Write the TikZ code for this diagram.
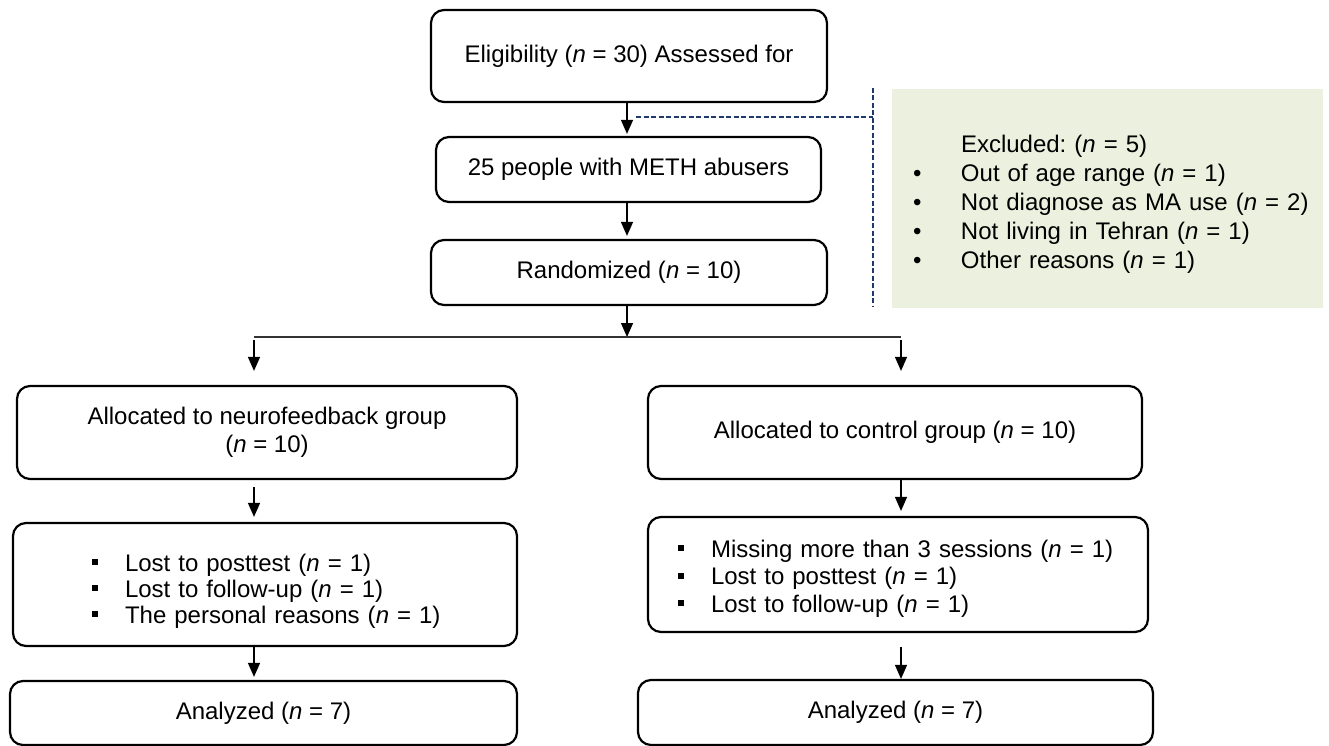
\documentclass[tikz,border=0pt]{standalone}
\usepackage{fontspec}
\setmainfont{Liberation Sans}
\usetikzlibrary{arrows.meta}
\definecolor{exclgreen}{RGB}{235,241,222}
\definecolor{dashblue}{RGB}{31,56,110}
\newcommand{\sqbul}{\makebox[33pt][l]{\rule[6pt]{6pt}{6pt}}}
\newcommand{\rdbul}{\makebox[48pt][l]{\textbullet}}
% one unbroken line of a list
\newcommand{\lline}[1]{\makebox[0pt][l]{#1}}
\frenchspacing
\begin{document}
\begin{tikzpicture}[x=1pt,y=-1pt,
  every node/.style={font=\fontsize{24pt}{27.6pt}\selectfont},
  box/.style={draw,line width=2.2pt,rounded corners=13pt,align=center},
  arr/.style={line width=1.4pt,-{Triangle[length=14pt,width=12pt]}},
  dashln/.style={dashblue,line width=1.5pt,dash pattern=on 5pt off 2.5pt}]
\useasboundingbox (0,0) rectangle (1329,746);
% enrolment
\node[box,minimum width=396pt,minimum height=92pt] (elig) at (629,56) {Eligibility (\textit{n} = 30) Assessed for};
\node[box,minimum width=385pt,minimum height=65pt] (meth) at (628.5,169.5) {25 people with METH abusers};
\node[box,minimum width=396pt,minimum height=65pt] (rand) at (629,272.5) {Randomized (\textit{n} = 10)};
% excluded
\node[fill=exclgreen,minimum width=431pt,minimum height=219pt,text width=389pt,align=left,
  font=\fontsize{24pt}{29pt}\selectfont] (excl) at (1107.5,198.5)
  {\lline{\rule{0pt}{28pt}\hspace*{48pt}Excluded: (\textit{n} = 5)}\\
   \lline{\rdbul Out of age range (\textit{n} = 1)}\\
   \lline{\rdbul Not diagnose as MA use (\textit{n} = 2)}\\
   \lline{\rdbul Not living in Tehran (\textit{n} = 1)}\\
   \lline{\rdbul Other reasons (\textit{n} = 1)}};
\coordinate (dashbeg) at (636,117);
\coordinate (dashtop) at (873,88);
\coordinate (dashbot) at (873,307);
\draw[dashln] (dashbeg) -- (dashbeg -| dashtop);
\draw[dashln] (dashtop) -- (dashbot);
% groups
\node[box,minimum width=500pt,minimum height=93pt] (alloc1) at (267,432.5) {Allocated to neurofeedback group\\(\textit{n} = 10)};
\node[box,minimum width=494pt,minimum height=93pt] (alloc2) at (895,432.5) {Allocated to control group (\textit{n} = 10)};
\node[box,minimum width=504pt,minimum height=123pt,text width=346pt,align=left,
  font=\fontsize{24pt}{26pt}\selectfont] (lost1) at (265,584.5)
  {\lline{\rule{0pt}{30pt}\sqbul Lost to posttest (\textit{n} = 1)}\\
   \lline{\sqbul Lost to follow-up (\textit{n} = 1)}\\
   \lline{\sqbul The personal reasons (\textit{n} = 1)}};
\node[box,minimum width=500pt,minimum height=115pt,text width=440pt,align=left,
  font=\fontsize{24pt}{27.5pt}\selectfont] (lost2) at (898,574.5)
  {\lline{\rule{0pt}{25pt}\sqbul Missing more than 3 sessions (\textit{n} = 1)}\\
   \lline{\sqbul Lost to posttest (\textit{n} = 1)}\\
   \lline{\sqbul Lost to follow-up (\textit{n} = 1)}};
\node[box,minimum width=507pt,minimum height=64pt] (ana1) at (263.5,713) {Analyzed (\textit{n} = 7)};
\node[box,minimum width=515pt,minimum height=65pt] (ana2) at (895.5,712.5) {Analyzed (\textit{n} = 7)};
% connectors
\coordinate (splitM) at (627,337);
\coordinate (splitL) at (254,337);
\coordinate (splitR) at (901,337);
\draw[arr,shorten >=2pt] (elig.south -| splitM) -- (meth.north -| splitM);
\draw[arr,shorten >=3pt] (meth.south -| splitM) -- (rand.north -| splitM);
\draw[arr] (rand.south -| splitM) -- (splitM);
\draw[line width=1.3pt,black!80] (splitL) -- (splitR);
\draw[arr,shorten <=3pt,shorten >=14pt] (splitL) -- (splitL |- alloc1.north);
\draw[arr,shorten <=3pt,shorten >=14pt] (splitR) -- (splitR |- alloc2.north);
\draw[arr,shorten <=7pt,shorten >=5pt] (alloc1.south -| splitL) -- (lost1.north -| splitL);
\draw[arr,shorten >=3pt] (lost1.south -| splitL) -- (ana1.north -| splitL);
\draw[arr,shorten >=5pt] (alloc2.south -| splitR) -- (lost2.north -| splitR);
\draw[arr,shorten <=14pt] (lost2.south -| splitR) -- (ana2.north -| splitR);
\end{tikzpicture}
\end{document}
